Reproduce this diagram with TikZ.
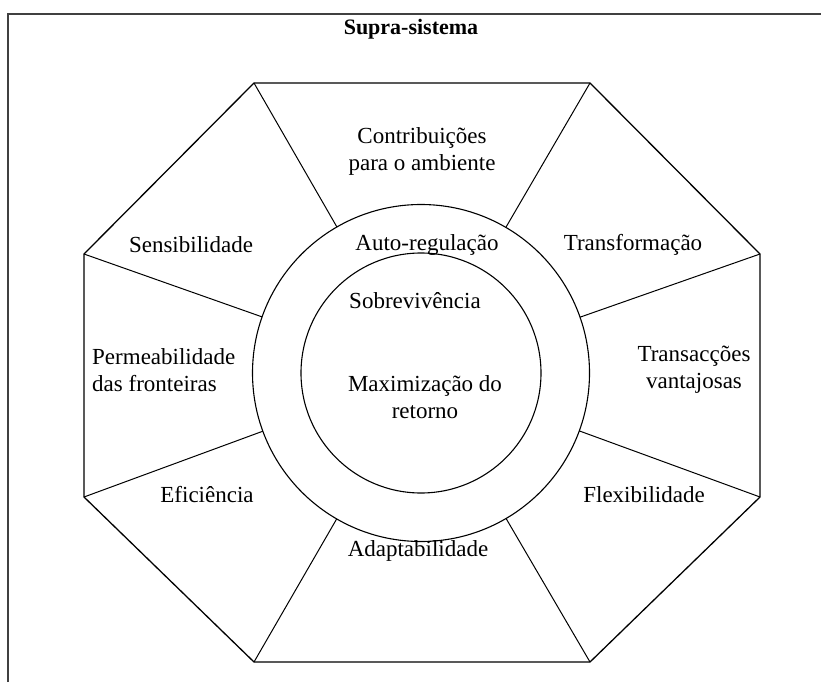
\documentclass[tikz,border=0pt]{standalone}
\usepackage{fontspec}
\setmainfont{Liberation Serif}
\usetikzlibrary{calc}
\begin{document}
\begin{tikzpicture}[x=1pt,y=-1pt,
  edge/.style={line width=1.3pt,black},
  spoke/.style={line width=1pt,black},
  ring/.style={line width=1.1pt,black},
  frame/.style={line width=2pt,black!75},
  lbl/.style={inner sep=0pt,font=\fontsize{23}{27}\selectfont,align=center},
  ttl/.style={inner sep=0pt,font=\bfseries\fontsize{22}{26}\selectfont}]
\useasboundingbox (0,0) rectangle (821,682);
% outer frame (open to the right and below)
\coordinate (fb) at (8,682);
\coordinate (fc) at (8,14);
\coordinate (fr) at (821,14);
\draw[frame] (fb) -- (fc) -- (fr);
\node[ttl] (title) at (411,29) {Supra-sistema};
% octagon
\coordinate (c) at (421,373);
\coordinate (v1) at (254,83);
\coordinate (v2) at (590,83);
\coordinate (v3) at (760,254);
\coordinate (v4) at (760,497);
\coordinate (v5) at (590,662);
\coordinate (v6) at (254,662);
\coordinate (v7) at (84,497);
\coordinate (v8) at (84,254);
\draw[edge] (v1) -- (v2) -- (v3) -- (v4) -- (v5) -- (v6) -- (v7) -- (v8) -- cycle;
% rings
\draw[ring] (c) circle (168.5);
\draw[ring] (c) circle (120);
% spokes from the corners to the outer ring
\foreach \v in {v1,v2,v3,v4,v5,v6,v7,v8}
  \draw[spoke] (\v) -- ($(c)!168.5pt!(\v)$);
% labels
\node[lbl] (contrib) at (422,151) {Contribuições\\para o ambiente};
\node[lbl] (auto) at (427,245) {Auto-regulação};
\node[lbl] (sobre) at (415,301) {Sobrevivência};
\node[lbl] (maxi) at (425,397) {Maximização do\\retorno};
\node[lbl] (sens) at (191,245) {Sensibilidade};
\node[lbl] (transf) at (633,245) {Transformação};
\node[lbl,align=left,anchor=west] (perm) at (92,370) {Permeabilidade\\das fronteiras};
\node[lbl] (trans) at (694,370) {Transacções\\vantajosas};
\node[lbl] (efic) at (207,495) {Eficiência};
\node[lbl] (flex) at (644,495) {Flexibilidade};
\node[lbl] (adapt) at (418,551) {Adaptabilidade};
\end{tikzpicture}
\end{document}
